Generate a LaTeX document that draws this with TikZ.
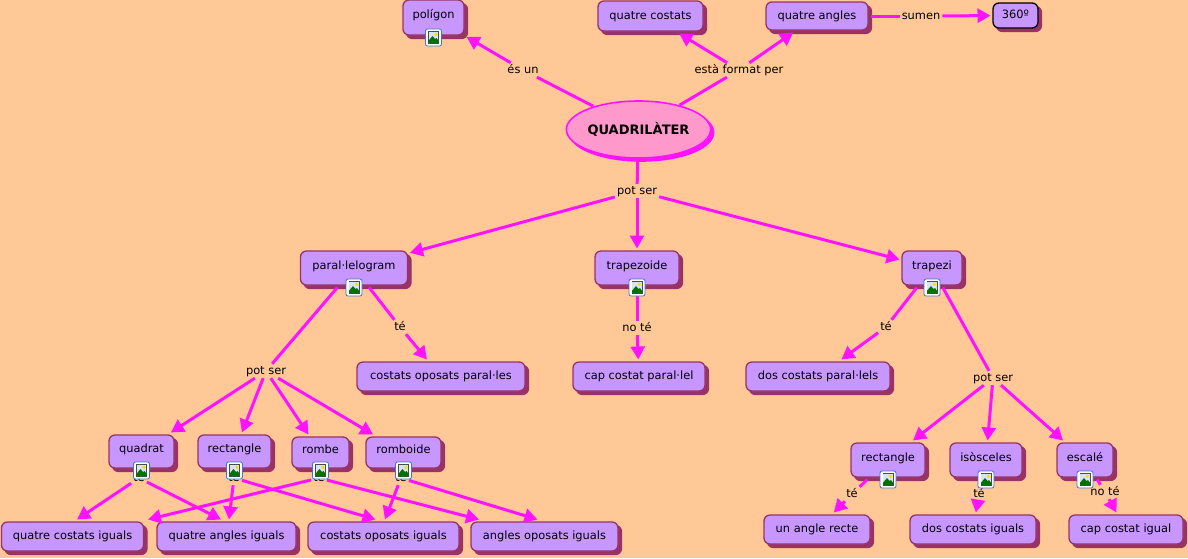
\documentclass[tikz,border=0pt]{standalone}
\usepackage{fontspec}
\setmainfont{DejaVu Sans}
\usetikzlibrary{arrows.meta,shapes.geometric,shadows}
\definecolor{bgc}{HTML}{FFC896}
\definecolor{boxc}{HTML}{C896FF}
\definecolor{shadec}{HTML}{993366}
\definecolor{linkc}{HTML}{FF12FF}
\definecolor{rootc}{HTML}{FF99CC}
\definecolor{iconc}{HTML}{3B78C8}
\tikzset{
  conceptbox/.style 2 args={draw=shadec, fill=boxc, line width=1.3pt, rounded corners=6pt,
    minimum width=#1, minimum height=#2, inner sep=0pt, outer sep=2.5pt,
    text height=8.5pt, text depth=2.5pt,
    copy shadow={shadow xshift=3.5pt, shadow yshift=-3.5pt, fill=shadec, draw=shadec}},
  iconbox/.style 2 args={conceptbox={#1}{#2}, text depth=6pt},
  linklabel/.style={inner xsep=2pt, inner ysep=2pt, text height=8.5pt, text depth=1.5pt},
  link/.style={linkc, line width=3pt},
  linkarrow/.style={link, -{Triangle[length=13pt, width=14pt]}},
  imgicon/.pic={
    \draw[iconc, fill=white, rounded corners=2pt, line width=.8pt] (-8,-8.5) rectangle (8,8.5);
    \fill[black!70] (-5.5,-6.5) rectangle (5.5,6.5);
    \fill[white!80!iconc] (-4.8,-5.8) rectangle (4.8,5.8);
    \fill[green!45!black] (-4.8,5.8) -- (-4.8,3) -- (-1,-1.5) -- (1.5,1.5) -- (3,.5) -- (4.8,3) -- (4.8,5.8) -- cycle;
    \fill[yellow!80!orange] (2.4,-3.2) circle (1.8);
  }
}

\begin{document}
\begin{tikzpicture}[x=1pt, y=-1pt, font=\fontsize{11.4}{13}\selectfont]
  \useasboundingbox (0,0) rectangle (1188,558);
  \fill[bgc] (0,0) rectangle (1188,558);

  % root
  \node[ellipse, draw=linkc, fill=rootc, line width=1.6pt, minimum width=138pt, minimum height=57pt,
    inner sep=0pt, outer sep=1pt, font=\fontsize{13}{15}\selectfont\bfseries,
    copy shadow={shadow xshift=3pt, shadow yshift=-3pt, fill=linkc, draw=linkc}] (quad) at (638.5,129.5) {QUADRILÀTER};

  % top row
  \node[iconbox={61pt}{35pt}] (poligon) at (433.5,17.5) {polígon};
  \node[conceptbox={105pt}{30pt}] (qcostats) at (650.5,16) {quatre costats};
  \node[conceptbox={102pt}{28pt}] (qangles) at (817,16) {quatre angles};
  \node[conceptbox={45pt}{25pt}, draw=black] (graus) at (1015.5,15.5) {360º};

  % second level
  \node[iconbox={107pt}{34pt}] (paral) at (354,268) {paral·lelogram};
  \node[iconbox={84pt}{34pt}] (trapezoide) at (637,268) {trapezoide};
  \node[iconbox={60pt}{34pt}] (trapezi) at (932,268) {trapezi};
  \node[conceptbox={168pt}{29pt}] (cparal) at (441,376.5) {costats oposats paral·les};
  \node[conceptbox={132pt}{29pt}] (capparal) at (639,376.5) {cap costat paral·lel};
  \node[conceptbox={144pt}{29pt}] (dosparal) at (818,376.5) {dos costats paral·lels};

  % left branch
  \node[iconbox={65pt}{33pt}] (quadrat) at (141.5,451.5) {quadrat};
  \node[iconbox={73pt}{33pt}] (rectl) at (234.5,451.5) {rectangle};
  \node[iconbox={57pt}{31pt}] (rombe) at (320.5,452.5) {rombe};
  \node[iconbox={75pt}{31pt}] (romboide) at (403.5,452.5) {romboide};
  \node[conceptbox={142pt}{29pt}] (qci) at (72.5,536.5) {quatre costats iguals};
  \node[conceptbox={139pt}{29pt}] (qai) at (226.5,536.5) {quatre angles iguals};
  \node[conceptbox={151pt}{29pt}] (coi) at (383.5,536.5) {costats oposats iguals};
  \node[conceptbox={147pt}{29pt}] (aoi) at (544.5,536.5) {angles oposats iguals};

  % right branch
  \node[iconbox={74pt}{34pt}] (rectr) at (888,460) {rectangle};
  \node[iconbox={72pt}{34pt}] (isosceles) at (986,460) {isòsceles};
  \node[iconbox={56pt}{34pt}] (escale) at (1085,460) {escalé};
  \node[conceptbox={106pt}{29pt}] (recte) at (817,529.5) {un angle recte};
  \node[conceptbox={126pt}{29pt}] (dci) at (973,529.5) {dos costats iguals};
  \node[conceptbox={114pt}{29pt}] (cci) at (1126,529.5) {cap costat igual};

  % link labels
  \node[linklabel] (esun) at (523,70) {és un};
  \node[linklabel] (format) at (739,70) {està format per};
  \node[linklabel] (sumen) at (921,16) {sumen};
  \node[linklabel] (potq) at (637,191) {pot ser};
  \node[linklabel] (note) at (637,328) {no té};
  \node[linklabel] (teparal) at (400,327) {té};
  \node[linklabel] (potp) at (266,371) {pot ser};
  \node[linklabel] (tetrap) at (886,327) {té};
  \node[linklabel] (pott) at (993,378) {pot ser};
  \node[linklabel] (tea) at (139,478) {té};
  \node[linklabel] (teb) at (234,478) {té};
  \node[linklabel] (tec) at (319,478) {té};
  \node[linklabel] (ted) at (401,478) {té};
  \node[linklabel] (ter) at (852,494) {té};
  \node[linklabel] (tei) at (979,494) {té};
  \node[linklabel] (notee) at (1105,492) {no té};

  % concept to label
  \foreach \a/\b in {quad/esun, quad/format, qangles/sumen, quad/potq, trapezoide/note, paral/teparal,
      paral/potp, trapezi/tetrap, trapezi/pott, quadrat/tea, rectl/teb, rombe/tec, romboide/ted,
      rectr/ter, isosceles/tei, escale/notee}
    \draw[link] (\a) -- (\b);

  % label to concept
  \foreach \a/\b in {esun/poligon, format/qcostats, format/qangles, sumen/graus, potq/paral, potq/trapezoide,
      potq/trapezi, note/capparal, teparal/cparal, tetrap/dosparal, potp/quadrat, potp/rectl, potp/rombe,
      potp/romboide, pott/rectr, pott/isosceles, pott/escale, ter/recte, tei/dci, notee/cci}
    \draw[linkarrow] (\a) -- (\b);

  % bottom row tips sit off centre
  \foreach \a/\b/\s in {tea/qci/4.5, tea/qai/-5.5, teb/qai/2.5, teb/coi/-8, tec/qci/75.5, tec/aoi/-65.5, ted/coi/1.5, ted/aoi/-7}
    \draw[linkarrow] (\a) -- ([xshift=\s pt]\b.north);

  % image icons
  \foreach \n in {poligon, paral, trapezoide, trapezi, quadrat, rectl, rombe, romboide, rectr, isosceles, escale}
    \pic at (\n.south) {imgicon};
\end{tikzpicture}
\end{document}
